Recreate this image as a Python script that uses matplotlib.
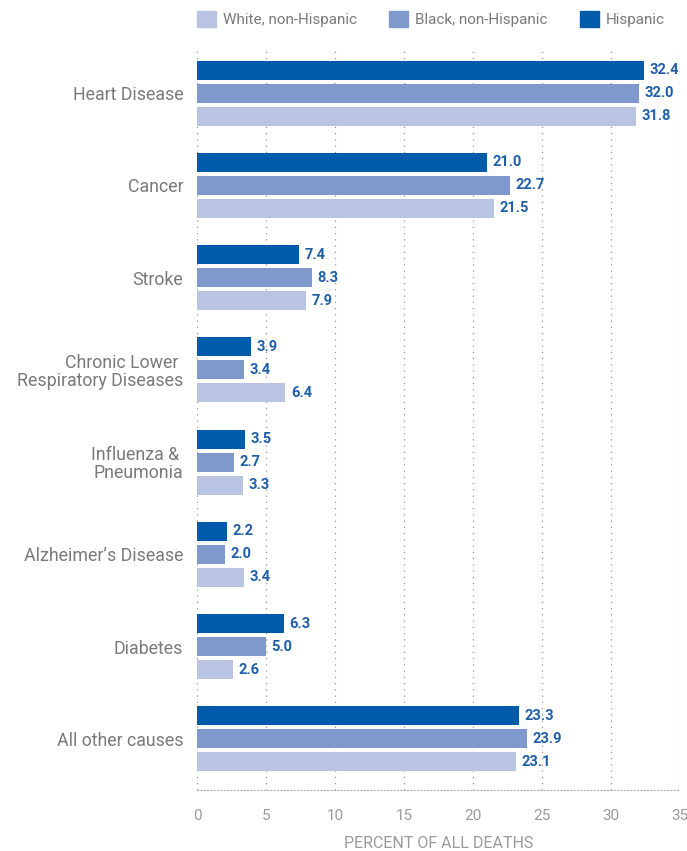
import matplotlib.pyplot as plt
from matplotlib.patches import Patch
import numpy as np

plt.rcParams['font.family'] = ['Roboto', 'DejaVu Sans']

causes = ["Heart Disease", "Cancer", "Stroke", "Chronic Lower \nRespiratory Diseases",
          "Influenza & \nPneumonia", "Alzheimer\u2019s Disease", "Diabetes", "All other causes"]
hispanic = [32.4, 21.0, 7.4, 3.9, 3.5, 2.2, 6.3, 23.3]
black = [32.0, 22.7, 8.3, 3.4, 2.7, 2.0, 5.0, 23.9]
white = [31.8, 21.5, 7.9, 6.4, 3.3, 3.4, 2.6, 23.1]
series_names = ["White, non-Hispanic", "Black, non-Hispanic", "Hispanic"]

c_white = "#b9c4e3"
c_black = "#7f99cc"
c_hisp = "#005bab"
grey = "#7a7a7a"
label_blue = "#1f5fa8"

fig = plt.figure(figsize=(6.87, 8.51), dpi=100)
ax = fig.add_axes([0.2868, 0.0717, 0.703, 0.8695])

y = np.arange(len(causes))
h = 0.205
off = 0.25
groups = [(hispanic, -off, c_hisp), (black, 0, c_black), (white, off, c_white)]
for vals, dy, col in groups:
    bars = ax.barh(y + dy, vals, height=h, color=col, zorder=3)
    for b, v in zip(bars, vals):
        ax.text(b.get_width() + 0.4, b.get_y() + b.get_height() / 2, f"{v:.1f}",
                va="center", ha="left", fontsize=10.5, fontweight="bold", color=label_blue)

ax.set_ylim(len(causes) - 1 + 0.554, -0.467)
ax.set_xlim(0, 35)
ax.set_xticks(range(0, 36, 5))
ax.set_yticks(y)
ax.set_yticklabels(causes, fontsize=12.8, color=grey, linespacing=1.0, multialignment="right")
ax.tick_params(axis="y", length=0, pad=10)
ax.tick_params(axis="x", length=0, pad=14, labelsize=11, labelcolor="#9a9a9a")
for s in ["top", "right", "left"]:
    ax.spines[s].set_visible(False)
ax.spines["bottom"].set_linestyle((0, (1, 2)))
ax.spines["bottom"].set_color("#aaaaaa")
ax.spines["bottom"].set_linewidth(0.8)
ax.grid(axis="x", linestyle=(0, (1, 4)), color="#999999", linewidth=0.9, zorder=0)
ax.set_xlabel("PERCENT OF ALL DEATHS", fontsize=11.5, color="#9a9a9a", labelpad=9)

# one legend entry per column, spaced like the header row
legend_x = [0.267, 0.546, 0.824]
for name, col, lx in zip(series_names, (c_white, c_black, c_hisp), legend_x):
    fig.legend([Patch(color=col)], [name], loc="upper left", bbox_to_anchor=(lx, 1.003),
               frameon=False, handlelength=1.25, handleheight=1.25, handletextpad=0.45,
               prop={"size": 11}, labelcolor=grey)

plt.savefig("out.png", dpi=100)
